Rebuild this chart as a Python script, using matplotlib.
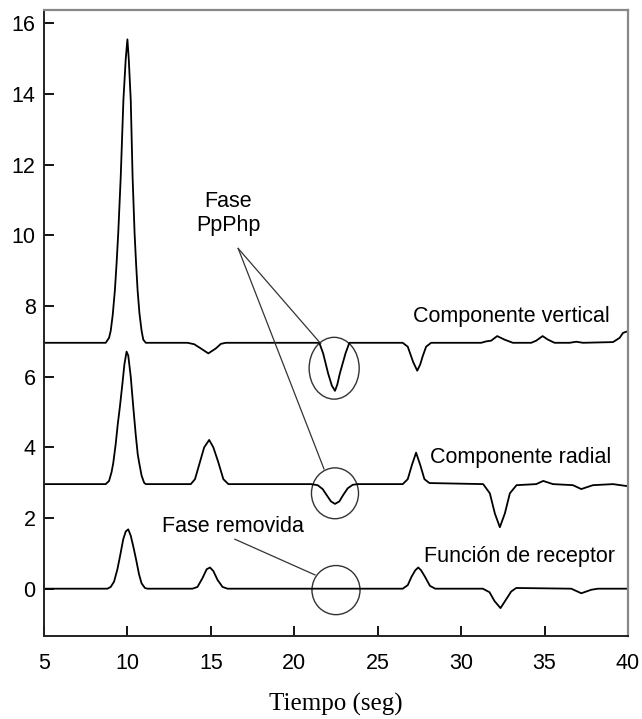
import matplotlib
matplotlib.use('Agg')
import matplotlib.pyplot as plt
from matplotlib.patches import Ellipse

# traces (time [s], amplitude)
vert_t = [5, 8.7, 8.9, 9.0, 9.12, 9.25, 9.35, 9.45, 9.6, 9.76, 9.9, 10.0, 10.08, 10.2, 10.31, 10.43,
          10.52, 10.61, 10.72, 10.85, 10.95, 11.1, 13.6, 14.0, 14.4, 14.85, 15.3, 15.6, 15.9,
          21.5, 21.73, 22.03, 22.25, 22.44, 22.58, 22.73, 23.07, 23.3,
          26.5, 26.8, 27.13, 27.37, 27.55, 27.69, 27.9, 28.2,
          31.2, 31.5, 31.8, 32.16, 32.6, 33.1, 34.2, 34.5, 34.88, 35.2, 35.6, 36.5, 36.9, 37.3,
          39.1, 39.5, 39.7, 40.0]
vert_v = [6.96, 6.96, 7.1, 7.3, 7.75, 8.45, 9.2, 10.06, 11.66, 13.83, 15.0, 15.55, 15.0, 13.83, 11.66, 10.06,
          9.2, 8.45, 7.8, 7.3, 7.05, 6.96, 6.96, 6.92, 6.8, 6.66, 6.8, 6.93, 6.96,
          6.96, 6.66, 6.09, 5.75, 5.6, 5.78, 6.09, 6.66, 6.96,
          6.96, 6.85, 6.41, 6.17, 6.35, 6.57, 6.85, 6.96,
          6.96, 7.0, 7.02, 7.15, 7.05, 6.96, 6.96, 7.02, 7.15, 7.05, 6.96, 6.96, 6.99, 6.96,
          6.98, 7.1, 7.24, 7.29]

rad_t = [5, 8.7, 8.9, 9.05, 9.15, 9.3, 9.42, 9.55, 9.7, 9.82, 9.95, 10.05, 10.2, 10.35, 10.5, 10.62,
         10.71, 10.85, 11.0, 11.1, 13.8, 14.05, 14.35, 14.6, 14.9, 15.15, 15.44, 15.75, 16.05,
         21.0, 21.4, 21.7, 21.94, 22.2, 22.44, 22.7, 22.93, 23.2, 23.5, 23.8,
         26.5, 26.8, 27.05, 27.3, 27.55, 27.8, 28.1, 31.32, 31.72, 32.02, 32.32, 32.62, 32.92,
         33.32, 34.5, 34.92, 35.5, 36.7, 37.2, 37.9, 39.1, 40.0]
rad_v = [2.96, 2.96, 3.05, 3.3, 3.55, 4.1, 4.65, 5.15, 5.8, 6.35, 6.71, 6.6, 6.0, 5.15, 4.35, 3.8,
         3.55, 3.2, 3.0, 2.96, 2.96, 3.1, 3.59, 4.0, 4.21, 4.0, 3.59, 3.1, 2.96,
         2.96, 2.93, 2.82, 2.65, 2.47, 2.40, 2.47, 2.65, 2.84, 2.94, 2.96,
         2.96, 3.1, 3.5, 3.85, 3.5, 3.1, 2.99, 2.96, 2.70, 2.13, 1.74, 2.13, 2.70,
         2.93, 2.96, 3.05, 2.96, 2.93, 2.82, 2.93, 2.96, 2.9]

rec_t = [5, 8.8, 9.0, 9.2, 9.4, 9.55, 9.75, 9.9, 10.05, 10.2, 10.35, 10.51, 10.7, 10.85, 11.05, 11.2,
         13.9, 14.2, 14.5, 14.75, 14.95, 15.15, 15.4, 15.7, 16.0,
         26.5, 26.8, 27.03, 27.25, 27.43, 27.6, 27.83, 28.13, 28.45,
         31.3, 31.7, 32.0, 32.36, 32.7, 33.0, 33.3, 36.6, 37.2, 37.8, 38.2, 40.0]
rec_v = [0, 0, 0.05, 0.2, 0.55, 0.9, 1.4, 1.62, 1.68, 1.5, 1.2, 0.85, 0.4, 0.15, 0.02, 0,
         0, 0.05, 0.3, 0.55, 0.6, 0.5, 0.25, 0.05, 0,
         0, 0.1, 0.34, 0.52, 0.6, 0.52, 0.34, 0.08, 0.0,
         0, -0.1, -0.35, -0.55, -0.3, -0.08, 0.02, 0.0, -0.13, -0.03, 0.0, 0.0]

x_ticks = [5, 10, 15, 20, 25, 30, 35, 40]
y_ticks = [0, 2, 4, 6, 8, 10, 12, 14, 16]

plt.rcParams['font.family'] = ['Liberation Sans', 'DejaVu Sans']

fig = plt.figure(figsize=(6.42, 7.19), dpi=100)
ax = fig.add_axes([0.0685, 0.1154, 0.9097, 0.8707])

ax.plot(vert_t, vert_v, color='black', lw=1.3)
ax.plot(rad_t, rad_v, color='black', lw=1.3)
ax.plot(rec_t, rec_v, color='black', lw=1.3)

ax.set_xlim(5, 40)
ax.set_ylim(-1.34, 16.38)
ax.set_xticks(x_ticks)
ax.set_yticks(y_ticks)
ax.tick_params(direction='in', length=7, width=1.3, labelsize=15.5)
ax.tick_params(axis='x', pad=12)
ax.tick_params(axis='y', pad=6)
for s in ['left', 'bottom']:
    ax.spines[s].set_color('#222222')
    ax.spines[s].set_linewidth(1.4)
for s in ['top', 'right']:
    ax.spines[s].set_color('#888888')
    ax.spines[s].set_linewidth(1.6)

ax.set_xlabel('Tiempo (seg)', family=['Liberation Serif'], fontsize=18, labelpad=14)

# labels
ax.text(27.11, 7.70, 'Componente vertical', fontsize=15.5, va='center', ha='left')
ax.text(28.13, 3.70, 'Componente radial', fontsize=15.5, va='center', ha='left')
ax.text(27.77, 0.90, 'Función de receptor', fontsize=15.5, va='center', ha='left')
ax.text(16.05, 10.62, 'Fase\nPpPhp', fontsize=15.5, va='center', ha='center', linespacing=1.2)
ax.text(16.32, 1.77, 'Fase removida', fontsize=15.5, va='center', ha='center')

# pointer lines
ax.plot([16.64, 21.58], [9.63, 6.94], color='#333333', lw=0.9)
ax.plot([16.64, 21.78], [9.63, 3.39], color='#333333', lw=0.9)
ax.plot([16.44, 21.24], [1.40, 0.39], color='#333333', lw=0.9)

# circles
for c, w, h in [((22.39, 6.24), 3.0, 1.75), ((22.44, 2.70), 2.82, 1.44), ((22.50, -0.04), 2.88, 1.39)]:
    ax.add_patch(Ellipse(c, w, h, fill=False, edgecolor='#333333', lw=1.0))

fig.savefig('out.png', dpi=100)
